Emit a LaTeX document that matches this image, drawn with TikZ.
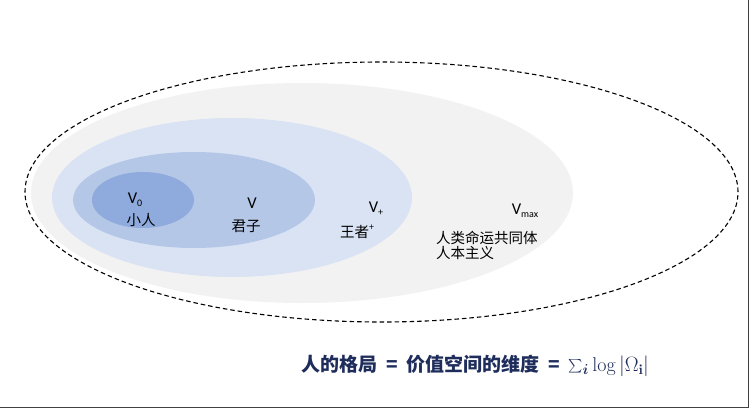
\documentclass[tikz,border=0pt]{standalone}
\usepackage{fontspec}
\usepackage{bm}
\usepackage{graphicx}
\newfontfamily\cjk{Noto Sans CJK SC}
\newfontfamily\lat{Carlito}
\definecolor{outergray}{HTML}{F2F2F2}
\definecolor{blueA}{HTML}{DAE3F3}
\definecolor{blueB}{HTML}{B4C7E7}
\definecolor{blueC}{HTML}{8FAADC}
\definecolor{navy}{HTML}{1F2D5C}
\definecolor{frame}{HTML}{404040}
\tikzset{
  vlab/.style={inner sep=0pt, font=\lat\fontsize{16.5}{18}\selectfont, text=black},
  clab/.style={inner sep=0pt, font=\cjk\fontsize{14.5}{17}\selectfont, text=black, align=left},
}
\newcommand{\mysub}[1]{\raisebox{-0.35ex}{\fontsize{10}{11}\selectfont #1}}
\newcommand{\mysup}[1]{\raisebox{0.9ex}{\fontsize{9}{10}\selectfont #1}}
\begin{document}
\begin{tikzpicture}[x=1pt,y=-1pt]
\useasboundingbox (0,0) rectangle (750,409);
\fill[white] (0,0) rectangle (750,409);
% ellipses
\fill[outergray] (302,193) ellipse [x radius=271pt, y radius=110pt];
\fill[blueA] (232,197.5) ellipse [x radius=180pt, y radius=79.5pt];
\fill[blueB] (194,200) ellipse [x radius=121pt, y radius=48pt];
\fill[blueC] (143,200) ellipse [x radius=51pt, y radius=28pt];
\draw[black, line width=1.1pt, dash pattern=on 4.5pt off 3pt] (381.5,192) ellipse [x radius=356.5pt, y radius=130pt];
% labels
\node[vlab] (v0) at (135,200) {V\mysub{0}};
\node[clab] (c0) at (141,220) {小人};
\node[vlab] (v1) at (252,203) {V};
\node[clab] (c1) at (246,226) {君子};
\node[vlab] (v2) at (376,209) {V\mysub{+}};
\node[clab] (c2) at (357,232) {王者\mysup{+}};
\node[vlab] (v3) at (525,211) {V\mysub{max}};
\node[clab, anchor=north west] (c3) at (436,231) {人类命运共同体\\[-2pt]人本主义};
% formula
\node[anchor=west, inner sep=0pt, text=navy] (f) at (301,366)
  {{\cjk\bfseries\fontsize{19}{22}\selectfont 人的格局\hspace{9pt}=\hspace{9pt}价值空间的维度\hspace{9pt}=\hspace{8pt}}\fontsize{20}{22}\selectfont$\vcenter{\hbox{\scalebox{1.35}{$\sum$}}}_{\bm{i}}\log|\Omega_{\mathbf{i}}|$};
% frame lines
\draw[frame, line width=1.5pt] (748.5,0) -- (748.5,407.5) -- (0,407.5);
\end{tikzpicture}
\end{document}
